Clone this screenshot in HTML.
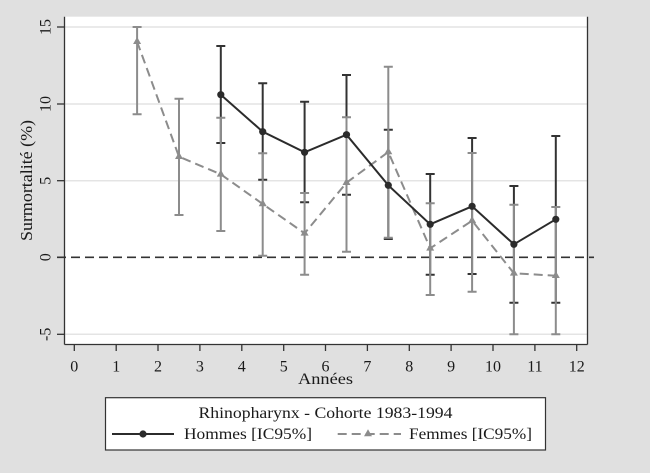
<!DOCTYPE html>
<html><head><meta charset="utf-8">
<style>
html,body{margin:0;padding:0;background:#e0e0e0;}
svg{display:block;}
text{font-family:"Liberation Serif",serif;fill:#1a1a1a;}
</style></head>
<body>
<svg width="650" height="473" viewBox="0 0 650 473" xmlns="http://www.w3.org/2000/svg">
<rect x="0" y="0" width="650" height="473" fill="#e0e0e0"/>
<!-- plot area -->
<rect x="64.5" y="16.7" width="523" height="327.8" fill="#ffffff"/>
<!-- grid -->
<g stroke="#e4e4e4" stroke-width="1.5">
<line x1="64.5" y1="27" x2="587" y2="27"/>
<line x1="64.5" y1="104" x2="587" y2="104"/>
<line x1="64.5" y1="180.7" x2="587" y2="180.7"/>
<line x1="64.5" y1="334.3" x2="587" y2="334.3"/>
</g>
<!-- axes -->
<g stroke="#333" stroke-width="1.3" fill="none">
<line x1="64.5" y1="16.7" x2="64.5" y2="344.5"/>
<line x1="64.5" y1="344.5" x2="587.5" y2="344.5"/>
<line x1="587.5" y1="16.7" x2="587.5" y2="344.5"/>
<!-- y ticks -->
<line x1="57" y1="27" x2="64.5" y2="27"/>
<line x1="57" y1="104" x2="64.5" y2="104"/>
<line x1="57" y1="180.7" x2="64.5" y2="180.7"/>
<line x1="57" y1="257.3" x2="64.5" y2="257.3"/>
<line x1="57" y1="334.3" x2="64.5" y2="334.3"/>
<!-- x ticks -->
<line x1="74.3" y1="344.5" x2="74.3" y2="351"/>
<line x1="116.2" y1="344.5" x2="116.2" y2="351"/>
<line x1="158" y1="344.5" x2="158" y2="351"/>
<line x1="199.9" y1="344.5" x2="199.9" y2="351"/>
<line x1="241.8" y1="344.5" x2="241.8" y2="351"/>
<line x1="283.7" y1="344.5" x2="283.7" y2="351"/>
<line x1="325.5" y1="344.5" x2="325.5" y2="351"/>
<line x1="367.4" y1="344.5" x2="367.4" y2="351"/>
<line x1="409.3" y1="344.5" x2="409.3" y2="351"/>
<line x1="451.1" y1="344.5" x2="451.1" y2="351"/>
<line x1="493" y1="344.5" x2="493" y2="351"/>
<line x1="534.9" y1="344.5" x2="534.9" y2="351"/>
<line x1="576.7" y1="344.5" x2="576.7" y2="351"/>
</g>
<!-- x tick labels -->
<g font-size="16" text-anchor="middle">
<text x="74.3" y="371.3">0</text>
<text x="116.2" y="371.3">1</text>
<text x="158" y="371.3">2</text>
<text x="199.9" y="371.3">3</text>
<text x="241.8" y="371.3">4</text>
<text x="283.7" y="371.3">5</text>
<text x="325.5" y="371.3">6</text>
<text x="367.4" y="371.3">7</text>
<text x="409.3" y="371.3">8</text>
<text x="451.1" y="371.3">9</text>
<text x="493" y="371.3">10</text>
<text x="534.9" y="371.3">11</text>
<text x="576.7" y="371.3">12</text>
</g>
<!-- y tick labels -->
<g font-size="16" text-anchor="middle">
<text transform="translate(50.5,27) rotate(-90)">15</text>
<text transform="translate(50.5,104) rotate(-90)">10</text>
<text transform="translate(50.5,180.7) rotate(-90)">5</text>
<text transform="translate(50.5,257.3) rotate(-90)">0</text>
<text transform="translate(50.5,334.3) rotate(-90)">-5</text>
</g>
<text x="325.5" y="384" font-size="16" text-anchor="middle" textLength="55" lengthAdjust="spacingAndGlyphs">Années</text>
<text transform="translate(32,180.5) rotate(-90)" font-size="16.5" text-anchor="middle" textLength="121" lengthAdjust="spacingAndGlyphs">Surmortalité (%)</text>

<!-- zero line -->
<line x1="57" y1="257.3" x2="594" y2="257.3" stroke="#333" stroke-width="1.6" stroke-dasharray="9,5"/>

<!-- Hommes CIs -->
<g stroke="#333" stroke-width="2" fill="none">
<path d="M220.8 46V143M216.3 46H225.3M216.3 143H225.3"/>
<path d="M262.7 83.3V179.7M258.2 83.3H267.2M258.2 179.7H267.2"/>
<path d="M304.6 101.7V202.3M300.1 101.7H309.1M300.1 202.3H309.1"/>
<path d="M346.5 75V194.7M342 75H351M342 194.7H351"/>
<path d="M388.3 129.7V239M383.8 129.7H392.8M383.8 239H392.8"/>
<path d="M430.2 174V274.7M425.7 174H434.7M425.7 274.7H434.7"/>
<path d="M472.1 138V274M467.6 138H476.6M467.6 274H476.6"/>
<path d="M513.9 186V302.7M509.4 186H518.4M509.4 302.7H518.4"/>
<path d="M555.8 136V302.7M551.3 136H560.3M551.3 302.7H560.3"/>
</g>
<!-- Femmes CIs -->
<g stroke="#8c8c8c" stroke-width="2" fill="none">
<path d="M137.1 27V114.3M132.6 27H141.6M132.6 114.3H141.6"/>
<path d="M179 98.7V215M174.5 98.7H183.5M174.5 215H183.5"/>
<path d="M220.8 117.7V231M216.3 117.7H225.3M216.3 231H225.3"/>
<path d="M262.7 153.3V255.7M258.2 153.3H267.2M258.2 255.7H267.2"/>
<path d="M304.6 193V274.7M300.1 193H309.1M300.1 274.7H309.1"/>
<path d="M346.5 117.3V251.7M342 117.3H351M342 251.7H351"/>
<path d="M388.3 66.7V237.7M383.8 66.7H392.8M383.8 237.7H392.8"/>
<path d="M430.2 203.3V295M425.7 203.3H434.7M425.7 295H434.7"/>
<path d="M472.1 153V291.7M467.6 153H476.6M467.6 291.7H476.6"/>
<path d="M513.9 204.7V334.3M509.4 204.7H518.4M509.4 334.3H518.4"/>
<path d="M555.8 207V334.3M551.3 207H560.3M551.3 334.3H560.3"/>
</g>
<!-- Femmes line -->
<polyline fill="none" stroke="#8c8c8c" stroke-width="2" stroke-dasharray="9,5" points="137.1,41.7 179,156.7 220.8,174.3 262.7,204 304.6,233.3 346.5,182.7 388.3,152 430.2,248.3 472.1,220.7 513.9,273.3 555.8,275.7"/>
<g fill="#8c8c8c">
<path d="M137.1 37l4 7h-8z"/>
<path d="M179 152l4 7h-8z"/>
<path d="M220.8 169.6l4 7h-8z"/>
<path d="M262.7 199.3l4 7h-8z"/>
<path d="M304.6 228.6l4 7h-8z"/>
<path d="M346.5 178l4 7h-8z"/>
<path d="M388.3 147.3l4 7h-8z"/>
<path d="M430.2 243.6l4 7h-8z"/>
<path d="M472.1 216l4 7h-8z"/>
<path d="M513.9 268.6l4 7h-8z"/>
<path d="M555.8 271l4 7h-8z"/>
</g>
<!-- Hommes line -->
<polyline fill="none" stroke="#2b2b2b" stroke-width="2" points="220.8,94.7 262.7,131.7 304.6,152.3 346.5,134.7 388.3,185.3 430.2,224.3 472.1,206.3 513.9,244.3 555.8,219.3"/>
<g fill="#2b2b2b">
<circle cx="220.8" cy="94.7" r="3.6"/>
<circle cx="262.7" cy="131.7" r="3.6"/>
<circle cx="304.6" cy="152.3" r="3.6"/>
<circle cx="346.5" cy="134.7" r="3.6"/>
<circle cx="388.3" cy="185.3" r="3.6"/>
<circle cx="430.2" cy="224.3" r="3.6"/>
<circle cx="472.1" cy="206.3" r="3.6"/>
<circle cx="513.9" cy="244.3" r="3.6"/>
<circle cx="555.8" cy="219.3" r="3.6"/>
</g>

<!-- Legend -->
<rect x="105.5" y="397.7" width="440" height="52.3" fill="#ffffff" stroke="#333" stroke-width="1.2"/>
<text x="325.5" y="418" font-size="16" text-anchor="middle" textLength="254" lengthAdjust="spacingAndGlyphs">Rhinopharynx - Cohorte 1983-1994</text>
<line x1="112" y1="434" x2="174" y2="434" stroke="#2b2b2b" stroke-width="2"/>
<circle cx="143" cy="434" r="3.6" fill="#2b2b2b"/>
<text x="184" y="439" font-size="16" textLength="128" lengthAdjust="spacingAndGlyphs">Hommes [IC95%]</text>
<line x1="337.7" y1="434" x2="401" y2="434" stroke="#8c8c8c" stroke-width="2" stroke-dasharray="9,5"/>
<path d="M368 429.3l4 7h-8z" fill="#8c8c8c"/>
<text x="409" y="439" font-size="16" textLength="123" lengthAdjust="spacingAndGlyphs">Femmes [IC95%]</text>
</svg>
</body></html>
